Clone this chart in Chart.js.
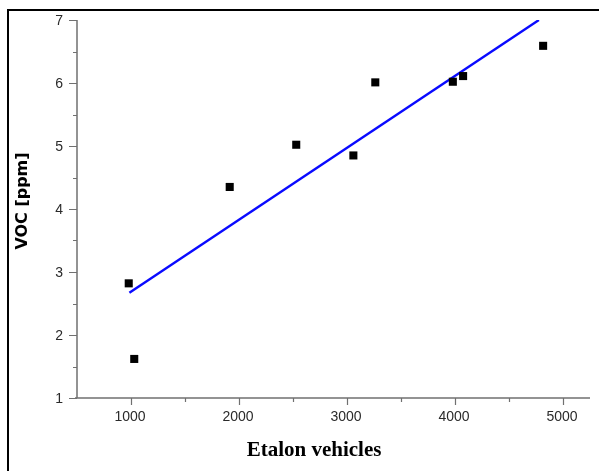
<!DOCTYPE html>
<html>
<head>
<meta charset="utf-8">
<script src="https://cdn.jsdelivr.net/npm/chart.js@4.4.1/dist/chart.umd.min.js"></script>
<style>
  html, body { margin: 0; padding: 0; background: #ffffff; }
  #wrap { width: 599px; height: 471px; position: relative; }
</style>
</head>
<body>
<div id="wrap"><canvas id="c" width="599" height="471"></canvas></div>
<script>
// Measured VOC concentration against number of etalon vehicles
const vehicles = [979, 1030, 1914, 2530, 3059, 3262, 3980, 4075, 4816];
const vocPpm   = [2.82, 1.62, 4.35, 5.02, 4.85, 6.01, 6.02, 6.11, 6.59];

// Linear fit line endpoints
const fitVehicles = [985, 4777];
const fitVoc      = [2.67, 7.0];

// Axis ticks
const xMajorTicks = [1000, 2000, 3000, 4000, 5000];
const xMinorTicks = [1500, 2500, 3500, 4500];
const yMajorTicks = [1, 2, 3, 4, 5, 6, 7];
const yMinorTicks = [1.5, 2.5, 3.5, 4.5, 5.5, 6.5];

const xTitle = 'Etalon vehicles';
const yTitle = 'VOC [ppm]';

const pointData = vehicles.map((v, i) => ({ x: v, y: vocPpm[i] }));
const fitData = fitVehicles.map((v, i) => ({ x: v, y: fitVoc[i] }));

const AXIS_COLOR = '#707070';
const TICK_FONT = '14px "Liberation Sans", Arial, sans-serif';

// Draws the frame, axis lines, tick marks, tick labels and axis titles
const axesPlugin = {
  id: 'axesPlugin',
  beforeDatasetsDraw(chart) {
    const { ctx, chartArea: a, scales: { x, y } } = chart;
    ctx.save();

    // outer frame (left and top edges)
    ctx.fillStyle = '#000000';
    ctx.fillRect(7, 9, 2, 471 - 9);
    ctx.fillRect(7, 9, 599 - 7, 2);

    ctx.strokeStyle = AXIS_COLOR;
    ctx.lineWidth = 1.5;
    ctx.beginPath();
    ctx.moveTo(a.left, a.top);
    ctx.lineTo(a.left, a.bottom);
    ctx.moveTo(a.left - 2, a.bottom);
    ctx.lineTo(a.right, a.bottom);
    ctx.stroke();

    ctx.lineWidth = 1.2;
    ctx.beginPath();
    xMajorTicks.forEach(v => {
      const px = Math.round(x.getPixelForValue(v)) + 0.5;
      ctx.moveTo(px, a.bottom); ctx.lineTo(px, a.bottom + 7);
    });
    xMinorTicks.forEach(v => {
      const px = Math.round(x.getPixelForValue(v)) + 0.5;
      ctx.moveTo(px, a.bottom); ctx.lineTo(px, a.bottom + 4);
    });
    yMajorTicks.forEach(v => {
      const py = Math.round(y.getPixelForValue(v)) + 0.5;
      ctx.moveTo(a.left, py); ctx.lineTo(a.left - 8, py);
    });
    yMinorTicks.forEach(v => {
      const py = Math.round(y.getPixelForValue(v)) + 0.5;
      ctx.moveTo(a.left, py); ctx.lineTo(a.left - 4, py);
    });
    ctx.stroke();

    // tick labels
    ctx.fillStyle = '#2a2a2a';
    ctx.font = TICK_FONT;
    ctx.textAlign = 'center';
    ctx.textBaseline = 'top';
    xMajorTicks.forEach(v => {
      ctx.fillText(String(v), x.getPixelForValue(v) - 1, a.bottom + 12);
    });
    ctx.textAlign = 'right';
    ctx.textBaseline = 'middle';
    yMajorTicks.forEach(v => {
      ctx.fillText(String(v), a.left - 14, y.getPixelForValue(v) + 1);
    });

    // axis titles
    ctx.fillStyle = '#000000';
    ctx.font = 'bold 21px "Liberation Serif", "Times New Roman", serif';
    ctx.textAlign = 'center';
    ctx.textBaseline = 'middle';
    ctx.fillText(xTitle, 314, 451);

    ctx.save();
    ctx.translate(23, 201);
    ctx.rotate(-Math.PI / 2);
    ctx.font = 'bold 16px "DejaVu Sans", sans-serif';
    ctx.fillText(yTitle, 0, 0);
    ctx.restore();

    ctx.restore();
  }
};

new Chart(document.getElementById('c'), {
  type: 'scatter',
  data: {
    datasets: [
      {
        label: 'fit',
        data: fitData,
        showLine: true,
        borderColor: '#0a0aff',
        borderWidth: 2.4,
        pointRadius: 0,
        fill: false,
        order: 2
      },
      {
        label: 'VOC',
        data: pointData,
        pointStyle: 'rect',
        pointRadius: 5.7,
        backgroundColor: '#000000',
        borderColor: '#000000',
        borderWidth: 0,
        order: 1
      }
    ]
  },
  options: {
    responsive: false,
    animation: false,
    devicePixelRatio: 1,
    layout: { padding: { left: 0, right: 9, top: 20, bottom: 0 } },
    plugins: {
      legend: { display: false },
      tooltip: { enabled: false }
    },
    scales: {
      x: {
        type: 'linear',
        min: 500,
        max: 5250,
        grid: { display: false },
        border: { display: false },
        ticks: { display: false },
        afterFit(scale) { scale.height = 73; }
      },
      y: {
        type: 'linear',
        min: 1,
        max: 7,
        grid: { display: false },
        border: { display: false },
        ticks: { display: false },
        afterFit(scale) { scale.width = 77; }
      }
    }
  },
  plugins: [axesPlugin]
});
</script>
</body>
</html>
